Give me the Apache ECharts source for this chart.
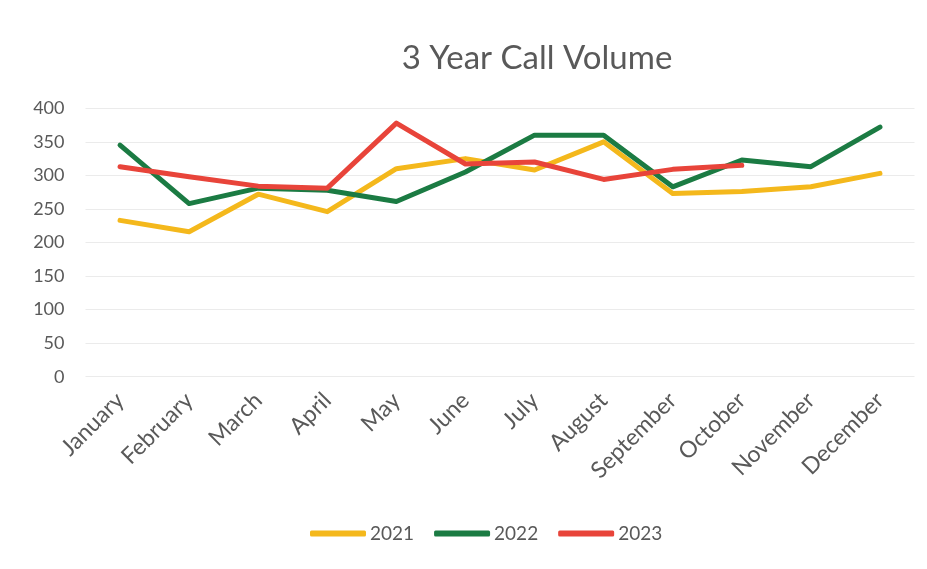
<!DOCTYPE html>
<html>
<head>
<meta charset="utf-8">
<script src="https://cdn.jsdelivr.net/npm/echarts@6/dist/echarts.min.js"></script>
<style>html,body{margin:0;padding:0;background:#fff;}#c{width:927px;height:569px;}</style>
</head>
<body>
<div id="c"></div>
<script>
const months = ['January','February','March','April','May','June','July','August','September','October','November','December'];
const v2021 = [233, 216, 272, 246, 310, 325, 308, 350, 273, 276, 283, 303];
const v2022 = [345, 258, 281, 278, 261, 305, 360, 360, 283, 323, 313, 372];
const v2023 = [313, 298, 284, 281, 378, 317, 320, 294, 309, 315];
const seriesNames = ['2021','2022','2023'];
const colors = ['#F4B81C', '#1B7B43', '#E8443A'];
const dataSets = [v2021, v2022, v2023];

const chart = echarts.init(document.getElementById('c'));
const font = 'Lato, "Open Sans", sans-serif';
chart.setOption({
  animation: false,
  backgroundColor: '#ffffff',
  title: {
    text: '3 Year Call Volume',
    left: 532, top: 37, textAlign: 'center',
    textStyle: { fontFamily: font, fontSize: 33, fontWeight: 'normal', color: '#595959' }
  },
  grid: { left: 85.5, right: 12.5, top: 108.3, bottom: 192.3 },
  legend: {
    data: seriesNames,
    left: 305, top: 519,
    itemWidth: 56, itemHeight: 6, itemGap: 20,
    icon: 'roundRect',
    textStyle: { fontFamily: font, fontSize: 19, color: '#595959', padding: [0,0,0,-1] }
  },
  xAxis: {
    type: 'category',
    data: months,
    boundaryGap: true,
    axisLine: { show: false },
    axisTick: { show: false },
    axisLabel: { rotate: 45, margin: 20, fontFamily: font, fontSize: 23, color: '#595959', interval: 0 }
  },
  yAxis: {
    type: 'value',
    min: 0, max: 400, interval: 50,
    axisLine: { show: false },
    axisTick: { show: false },
    axisLabel: { margin: 21, fontFamily: font, fontSize: 18, color: '#595959' },
    splitLine: { lineStyle: { color: '#ebebeb', width: 1 } }
  },
  series: dataSets.map((d, i) => ({
    name: seriesNames[i],
    type: 'line',
    data: d,
    symbol: 'none',
    color: colors[i],
    lineStyle: { width: 5, color: colors[i], cap: 'round', join: 'round' }
  }))
});
</script>
</body>
</html>
